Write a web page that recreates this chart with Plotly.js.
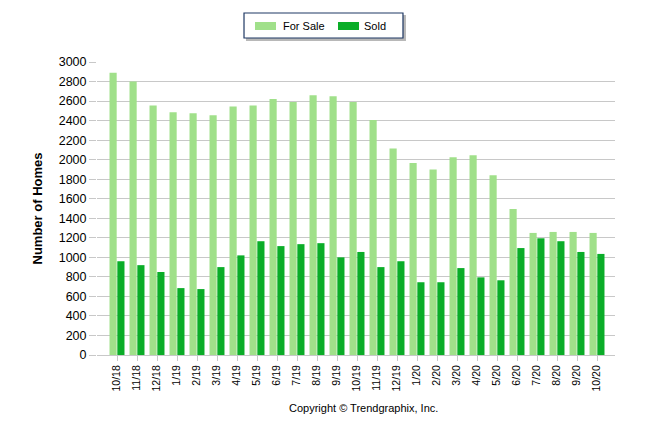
<!DOCTYPE html>
<html>
<head>
<meta charset="utf-8">
<script src="https://cdn.plot.ly/plotly-3.0.1.min.js"></script>
<style>
html,body{margin:0;padding:0;background:#fff;}
#chart{width:646px;height:434px;}
</style>
</head>
<body>
<div id="chart"></div>
<script>
var months = ["10/18","11/18","12/18","1/19","2/19","3/19","4/19","5/19","6/19","7/19","8/19","9/19","10/19","11/19","12/19","1/20","2/20","3/20","4/20","5/20","6/20","7/20","8/20","9/20","10/20"];
var forSale = [2890,2800,2555,2485,2475,2455,2545,2555,2620,2590,2660,2650,2590,2405,2115,1965,1900,2025,2045,1840,1495,1250,1260,1260,1250];
var sold = [960,920,850,685,675,900,1020,1165,1115,1135,1145,1000,1055,900,960,745,745,890,795,765,1095,1195,1165,1055,1035];
var yTicks = [0,200,400,600,800,1000,1200,1400,1600,1800,2000,2200,2400,2600,2800,3000];

var colorForSale = "#a0e08a";
var colorSold = "#0aad28";
var FONT = "Liberation Sans, Arial, sans-serif";

var traces = [
  {type:"bar", name:"For Sale", x:months, y:forSale, marker:{color:colorForSale}, hoverinfo:"x+y"},
  {type:"bar", name:"Sold", x:months, y:sold, marker:{color:colorSold}, hoverinfo:"x+y"}
];

var layout = {
  width:646, height:434,
  margin:{l:97, r:31, t:62, b:79},
  paper_bgcolor:"#ffffff", plot_bgcolor:"#ffffff",
  font:{family:FONT, color:"#000", size:12},
  barmode:"group", bargap:0.22, bargroupgap:0.08,
  showlegend:false,
  xaxis:{
    type:"category", range:[-1, 24.9],
    tickangle:-90, tickfont:{size:10.5, family:FONT, color:"#000"},
    ticks:"outside", ticklen:5, tickcolor:"#c8c8c8",
    showline:true, linecolor:"#c8c8c8", linewidth:1,
    showgrid:false, zeroline:false, fixedrange:true
  },
  yaxis:{
    range:[0,3000], tickvals:yTicks, ticktext:yTicks.map(String),
    tickfont:{size:12.5, family:FONT, color:"#000"},
    ticks:"outside", ticklen:7, tickcolor:"#c8c8c8",
    showgrid:true, gridcolor:"#c8c8c8", gridwidth:1,
    showline:false, zeroline:false, fixedrange:true,
    title:{text:"<b>Number of Homes</b>", font:{size:13, family:FONT, color:"#000"}, standoff:13}
  },
  shapes:[
    {type:"rect", xref:"paper", yref:"paper", x0:0.2876, x1:0.5965, y0:1.0717, y1:1.1604, fillcolor:"rgba(0,0,0,0.28)", line:{width:0}, layer:"above"},
    {type:"rect", xref:"paper", yref:"paper", x0:0.2838, x1:0.5907, y0:1.0819, y1:1.1672, fillcolor:"#ffffff", line:{color:"#1f3864", width:1.2}, layer:"above"},
    {type:"rect", xref:"paper", yref:"paper", x0:0.3050, x1:0.3456, y0:1.1092, y1:1.1365, fillcolor:colorForSale, line:{width:0}, layer:"above"},
    {type:"rect", xref:"paper", yref:"paper", x0:0.4653, x1:0.5058, y0:1.1092, y1:1.1365, fillcolor:colorSold, line:{width:0}, layer:"above"}
  ],
  annotations:[
    {text:"For Sale", xref:"paper", yref:"paper", x:0.3546, y:1.1229, xanchor:"left", yanchor:"middle", showarrow:false, font:{size:11, family:FONT, color:"#000"}},
    {text:"Sold", xref:"paper", yref:"paper", x:0.5121, y:1.1229, xanchor:"left", yanchor:"middle", showarrow:false, font:{size:11, family:FONT, color:"#000"}},
    {text:"Copyright © Trendgraphix, Inc.", xref:"paper", yref:"paper", x:0.5143, y:-0.1808, xanchor:"center", yanchor:"middle", showarrow:false, font:{size:11, family:FONT, color:"#000"}}
  ]
};

Plotly.newPlot("chart", traces, layout, {displayModeBar:false, staticPlot:true});
</script>
</body>
</html>
